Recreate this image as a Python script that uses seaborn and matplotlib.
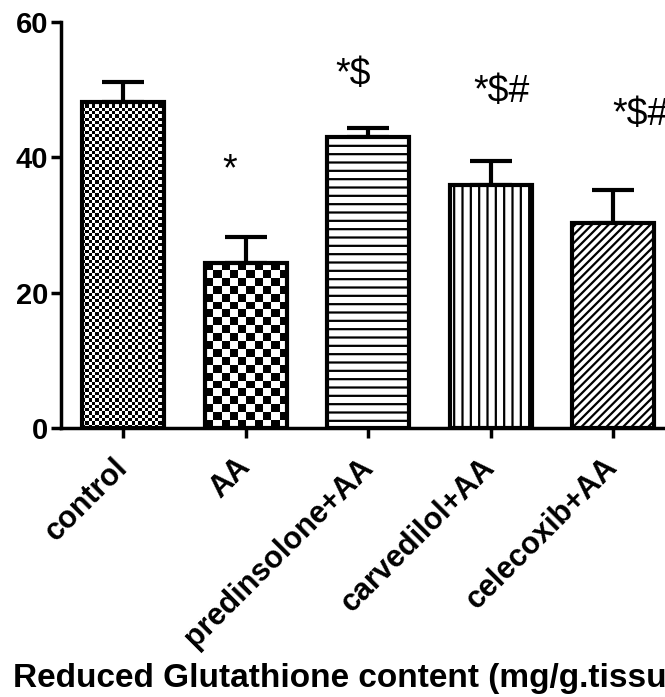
import numpy as np
import seaborn as sns
import matplotlib
matplotlib.use("Agg")
import matplotlib.pyplot as plt

# data
groups = ["control", "AA", "predinsolone+AA", "carvedilol+AA", "celecoxib+AA"]
means = [48.2, 24.4, 43.0, 35.9, 30.3]
sem = [2.9, 3.8, 1.4, 3.6, 4.9]
marks = ["", "*", "*$", "*$#", "*$#"]
y_ticks = [0, 20, 40, 60]
x_title = "Reduced Glutathione content (mg/g.tissue)"

sns.set_style("ticks")
plt.rcParams['font.family'] = ['Liberation Sans', 'DejaVu Sans']
plt.rcParams['hatch.linewidth'] = 1.6
plt.rcParams['text.color'] = 'black'
plt.rcParams['xtick.color'] = 'black'
plt.rcParams['ytick.color'] = 'black'
plt.rcParams['axes.edgecolor'] = 'black'

fig = plt.figure(figsize=(6.65, 6.97), dpi=100)
ax = fig.add_axes([0.0917, 0.386, 0.908, 0.5825])

sns.barplot(
    x=groups,
    y=means,
    color="white",
    edgecolor="black",
    linewidth=3,
    width=0.67,
    errorbar=None,
    ax=ax
)

ax.set_xlim(-0.506, 4.42)
ax.set_ylim(0, 60)

# upper error bars only
ax.errorbar(
    np.arange(len(groups)),
    means,
    yerr=[np.zeros(len(sem)), sem],
    fmt="none",
    ecolor="black",
    elinewidth=3,
    capsize=15,
    capthick=3,
    zorder=0.8
)

bars = ax.patches

# checkerboards for control (fine) and AA (coarse)
def checker(patch, cell_px):
    x0, w, h = patch.get_x(), patch.get_width(), patch.get_height()
    p0 = ax.transData.transform((x0, 0))
    p1 = ax.transData.transform((x0 + w, h))
    nx = max(1, int(round((p1[0] - p0[0]) / cell_px)))
    ny = max(1, int(round((p1[1] - p0[1]) / cell_px)))
    board = np.indices((ny, nx)).sum(axis=0) % 2
    im = ax.imshow(board, cmap="gray", extent=(x0, x0 + w, 0, h),
                   aspect="auto", interpolation="nearest", zorder=0.9)
    im.set_clip_path(patch)
    patch.set_facecolor("none")

checker(bars[0], 3.3)
checker(bars[1], 8)
bars[2].set_hatch("--")
bars[3].set_hatch("||")
bars[4].set_hatch("////")
ax.set_xlim(-0.506, 4.42)
ax.set_ylim(0, 60)

# significance marks
mark_pos = [(0, 0), (0.808, 36.6), (1.731, 50.7), (2.857, 48.2), (3.992, 44.8)]
for m, (mx, my) in zip(marks, mark_pos):
    if m:
        ax.text(mx, my, m, fontsize=27, ha="left", va="baseline",
                clip_on=False)

ax.set_yticks(y_ticks)
ax.set_yticklabels([str(t) for t in y_ticks], fontsize=21, fontweight="bold")
ax.set_xticks(np.arange(len(groups)))
ax.set_xticklabels(groups, fontsize=22, fontweight="bold", rotation=45,
                   ha="right", va="center", rotation_mode="anchor")
ax.tick_params(axis="both", width=2.5, length=7, color="black")
ax.tick_params(axis="x", pad=18)
ax.tick_params(axis="y", pad=2)
ax.set_xlabel("")
ax.set_ylabel("")

sns.despine(ax=ax, right=True, top=True)
ax.spines["left"].set_linewidth(2.5)
ax.spines["bottom"].set_linewidth(2.5)

fig.text(0.02, 0.0143, x_title, fontsize=24, fontweight="bold",
         ha="left", va="baseline")

fig.savefig("out.png", dpi=100)
